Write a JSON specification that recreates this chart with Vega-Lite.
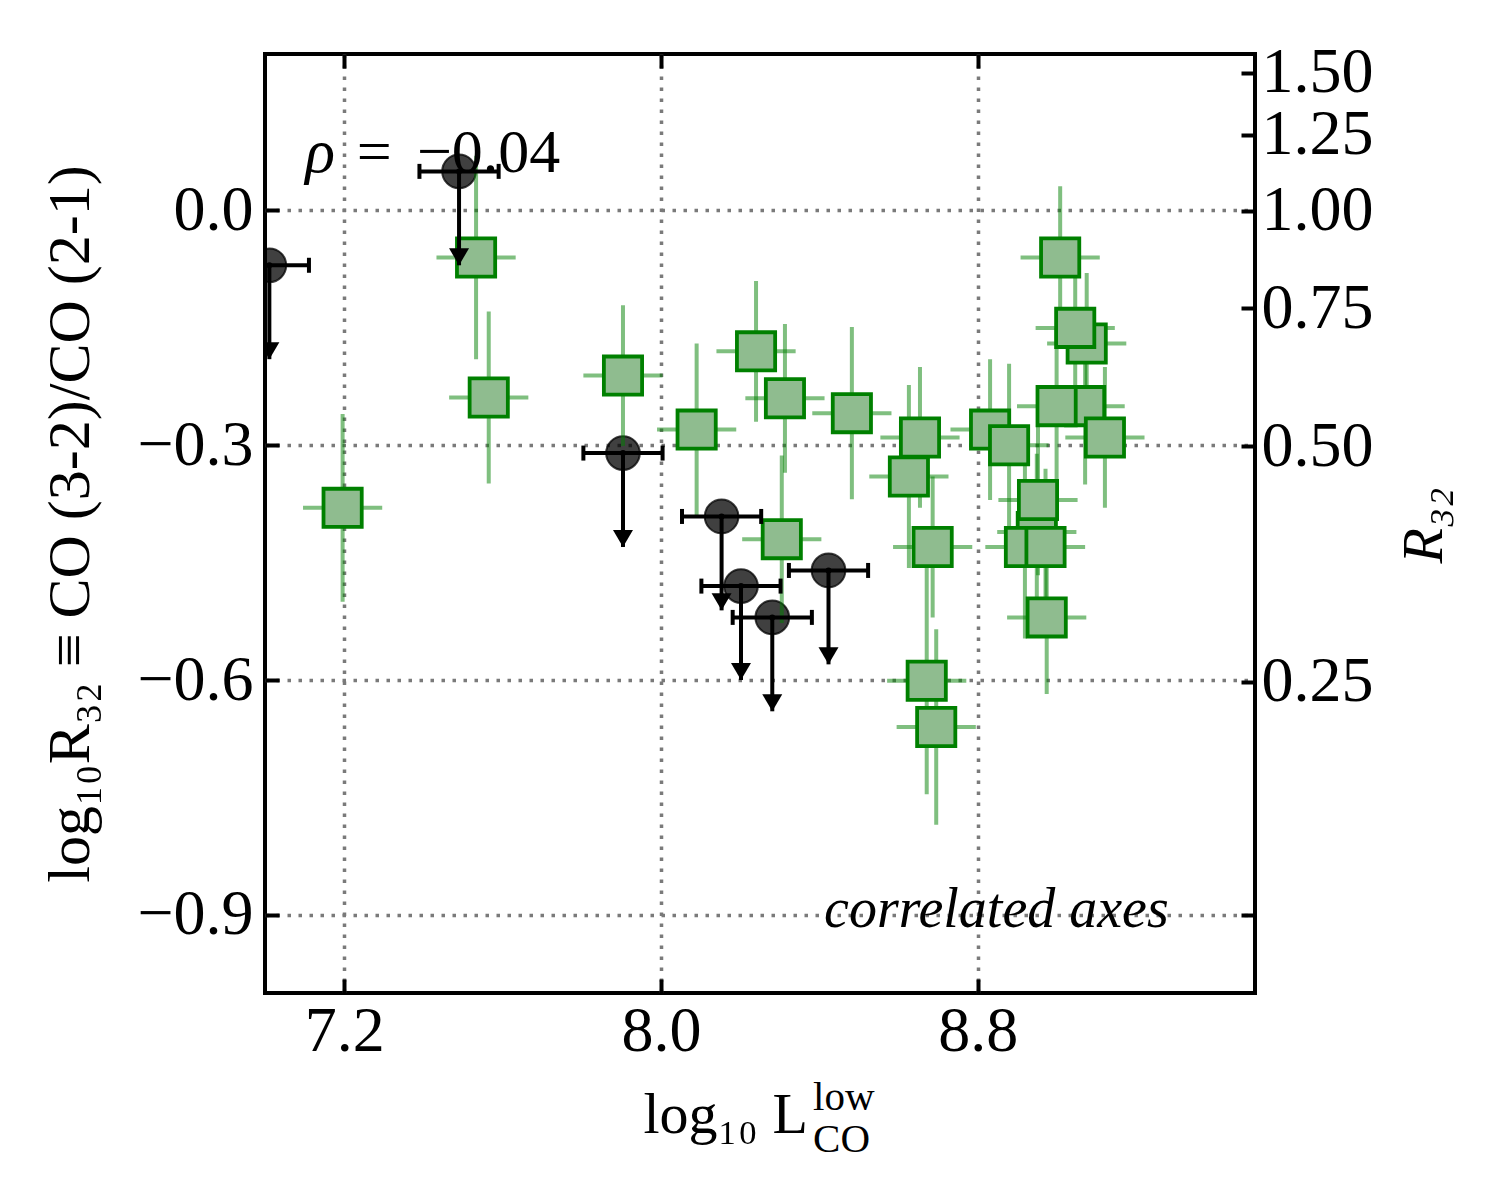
{
  "$schema": "https://vega.github.io/schema/vega-lite/v6.json",
  "autosize": {"type": "none"},
  "padding": {"left": 265, "top": 54, "right": 245, "bottom": 207},
  "width": 990,
  "height": 939,
  "background": "white",
  "datasets": {
    "green": [
      {"x": 7.196, "y": -0.380, "xlo": 7.096, "xhi": 7.296, "ylo": -0.500, "yhi": -0.260},
      {"x": 7.533, "y": -0.060, "xlo": 7.433, "xhi": 7.633, "ylo": -0.190, "yhi": 0.070},
      {"x": 7.565, "y": -0.239, "xlo": 7.465, "xhi": 7.665, "ylo": -0.349, "yhi": -0.129},
      {"x": 7.904, "y": -0.211, "xlo": 7.804, "xhi": 8.004, "ylo": -0.301, "yhi": -0.121},
      {"x": 8.090, "y": -0.280, "xlo": 7.990, "xhi": 8.190, "ylo": -0.390, "yhi": -0.170},
      {"x": 8.240, "y": -0.180, "xlo": 8.140, "xhi": 8.340, "ylo": -0.270, "yhi": -0.090},
      {"x": 8.313, "y": -0.240, "xlo": 8.213, "xhi": 8.413, "ylo": -0.335, "yhi": -0.145},
      {"x": 8.305, "y": -0.420, "xlo": 8.205, "xhi": 8.405, "ylo": -0.527, "yhi": -0.313},
      {"x": 8.482, "y": -0.259, "xlo": 8.382, "xhi": 8.582, "ylo": -0.369, "yhi": -0.149},
      {"x": 8.654, "y": -0.290, "xlo": 8.554, "xhi": 8.754, "ylo": -0.380, "yhi": -0.200},
      {"x": 8.626, "y": -0.340, "xlo": 8.526, "xhi": 8.726, "ylo": -0.457, "yhi": -0.223},
      {"x": 8.686, "y": -0.430, "xlo": 8.586, "xhi": 8.786, "ylo": -0.520, "yhi": -0.340},
      {"x": 8.671, "y": -0.601, "xlo": 8.571, "xhi": 8.771, "ylo": -0.746, "yhi": -0.456},
      {"x": 8.695, "y": -0.660, "xlo": 8.595, "xhi": 8.795, "ylo": -0.785, "yhi": -0.535},
      {"x": 8.831, "y": -0.280, "xlo": 8.731, "xhi": 8.931, "ylo": -0.370, "yhi": -0.190},
      {"x": 8.879, "y": -0.300, "xlo": 8.779, "xhi": 8.979, "ylo": -0.404, "yhi": -0.196},
      {"x": 8.949, "y": -0.411, "xlo": 8.849, "xhi": 9.049, "ylo": -0.511, "yhi": -0.311},
      {"x": 8.952, "y": -0.370, "xlo": 8.852, "xhi": 9.052, "ylo": -0.466, "yhi": -0.274},
      {"x": 8.919, "y": -0.430, "xlo": 8.819, "xhi": 9.019, "ylo": -0.547, "yhi": -0.313},
      {"x": 8.971, "y": -0.430, "xlo": 8.871, "xhi": 9.071, "ylo": -0.530, "yhi": -0.330},
      {"x": 8.974, "y": -0.520, "xlo": 8.874, "xhi": 9.074, "ylo": -0.618, "yhi": -0.422},
      {"x": 9.008, "y": -0.060, "xlo": 8.908, "xhi": 9.108, "ylo": -0.151, "yhi": 0.031},
      {"x": 9.075, "y": -0.170, "xlo": 8.975, "xhi": 9.175, "ylo": -0.260, "yhi": -0.080},
      {"x": 9.046, "y": -0.150, "xlo": 8.946, "xhi": 9.146, "ylo": -0.230, "yhi": -0.070},
      {"x": 9.071, "y": -0.250, "xlo": 8.971, "xhi": 9.171, "ylo": -0.350, "yhi": -0.150},
      {"x": 8.999, "y": -0.250, "xlo": 8.899, "xhi": 9.099, "ylo": -0.350, "yhi": -0.150},
      {"x": 9.121, "y": -0.290, "xlo": 9.021, "xhi": 9.221, "ylo": -0.380, "yhi": -0.200}
    ],
    "black": [
      {"x": 7.011, "y": -0.070, "xlo": 6.911, "xhi": 7.111, "ytip": -0.190},
      {"x": 7.490, "y": 0.050, "xlo": 7.390, "xhi": 7.590, "ytip": -0.070},
      {"x": 7.904, "y": -0.310, "xlo": 7.804, "xhi": 8.004, "ytip": -0.430},
      {"x": 8.153, "y": -0.391, "xlo": 8.053, "xhi": 8.253, "ytip": -0.511},
      {"x": 8.202, "y": -0.480, "xlo": 8.102, "xhi": 8.302, "ytip": -0.600},
      {"x": 8.281, "y": -0.520, "xlo": 8.181, "xhi": 8.381, "ytip": -0.640},
      {"x": 8.423, "y": -0.460, "xlo": 8.323, "xhi": 8.523, "ytip": -0.580}
    ]
  },
  "layer": [
    {
      "data": {"name": "black"},
      "mark": {"type": "point", "shape": "circle", "filled": true, "size": 1134, "fill": "#000000", "fillOpacity": 0.75, "stroke": "#000000", "strokeOpacity": 0.75, "strokeWidth": 2, "clip": true},
      "encoding": {
        "x": {"field": "x", "type": "quantitative", "scale": {"domain": [7, 9.5], "nice": false, "zero": false},
              "axis": {"orient": "bottom", "values": [7.2, 8.0, 8.8], "format": ".1f", "grid": true, "title": "log₁₀ L",
                       "titleX": 378, "titleY": 139, "titleAlign": "left", "titleBaseline": "alphabetic"}},
        "y": {"field": "y", "type": "quantitative", "scale": {"domain": [-1.0, 0.2], "nice": false, "zero": false},
              "axis": {"orient": "left", "values": [-0.9, -0.6, -0.3, 0.0], "format": ".1f", "grid": true, "title": "log₁₀R₃₂ ≡ CO (3-2)/CO (2-1)",
                       "titleFontSize": 60, "titleX": -177, "titleY": 469.5, "titleAngle": 270, "titleAlign": "center", "titleBaseline": "alphabetic"}}
      }
    },
    {
      "data": {"name": "green"},
      "mark": {"type": "rule", "color": "#008000", "opacity": 0.5, "strokeWidth": 4, "clip": true},
      "encoding": {
        "x": {"field": "xlo", "type": "quantitative", "scale": {"domain": [7, 9.5], "nice": false, "zero": false}, "axis": null},
        "x2": {"field": "xhi"},
        "y": {"field": "y", "type": "quantitative", "scale": {"domain": [-1.0, 0.2], "nice": false, "zero": false}, "axis": null}
      }
    },
    {
      "data": {"name": "green"},
      "mark": {"type": "rule", "color": "#008000", "opacity": 0.5, "strokeWidth": 4, "clip": true},
      "encoding": {
        "x": {"field": "x", "type": "quantitative", "scale": {"domain": [7, 9.5], "nice": false, "zero": false}, "axis": null},
        "y": {"field": "ylo", "type": "quantitative", "scale": {"domain": [-1.0, 0.2], "nice": false, "zero": false}, "axis": null},
        "y2": {"field": "yhi"}
      }
    },
    {
      "data": {"name": "green"},
      "mark": {"type": "point", "shape": "square", "filled": true, "size": 1460, "fill": "#8fbc8f", "fillOpacity": 1, "opacity": 1, "stroke": "#008000", "strokeWidth": 3.8, "strokeOpacity": 1, "clip": true},
      "encoding": {
        "x": {"field": "x", "type": "quantitative", "scale": {"domain": [7, 9.5], "nice": false, "zero": false}, "axis": null},
        "y": {"field": "y", "type": "quantitative", "scale": {"domain": [-1.0, 0.2], "nice": false, "zero": false}, "axis": null}
      }
    },
    {
      "data": {"name": "black"},
      "mark": {"type": "rule", "color": "#000000", "strokeWidth": 4, "clip": true},
      "encoding": {
        "x": {"field": "xlo", "type": "quantitative", "scale": {"domain": [7, 9.5], "nice": false, "zero": false}, "axis": null},
        "x2": {"field": "xhi"},
        "y": {"field": "y", "type": "quantitative", "scale": {"domain": [-1.0, 0.2], "nice": false, "zero": false}, "axis": null}
      }
    },
    {
      "data": {"name": "black"},
      "mark": {"type": "tick", "orient": "vertical", "color": "#000000", "size": 15, "thickness": 4, "opacity": 1, "clip": true},
      "encoding": {
        "x": {"field": "xlo", "type": "quantitative", "scale": {"domain": [7, 9.5], "nice": false, "zero": false}, "axis": null},
        "y": {"field": "y", "type": "quantitative", "scale": {"domain": [-1.0, 0.2], "nice": false, "zero": false}, "axis": null}
      }
    },
    {
      "data": {"name": "black"},
      "mark": {"type": "tick", "orient": "vertical", "color": "#000000", "size": 15, "thickness": 4, "opacity": 1, "clip": true},
      "encoding": {
        "x": {"field": "xhi", "type": "quantitative", "scale": {"domain": [7, 9.5], "nice": false, "zero": false}, "axis": null},
        "y": {"field": "y", "type": "quantitative", "scale": {"domain": [-1.0, 0.2], "nice": false, "zero": false}, "axis": null}
      }
    },
    {
      "data": {"name": "black"},
      "mark": {"type": "rule", "color": "#000000", "strokeWidth": 4, "clip": true},
      "encoding": {
        "x": {"field": "x", "type": "quantitative", "scale": {"domain": [7, 9.5], "nice": false, "zero": false}, "axis": null},
        "y": {"field": "y", "type": "quantitative", "scale": {"domain": [-1.0, 0.2], "nice": false, "zero": false}, "axis": null},
        "y2": {"field": "ytip"}
      }
    },
    {
      "data": {"name": "black"},
      "mark": {"type": "point", "shape": "M-1,-1.7L1,-1.7L0,0Z", "filled": true, "size": 400, "fill": "#000000", "fillOpacity": 1, "opacity": 1, "strokeWidth": 0, "clip": true},
      "encoding": {
        "x": {"field": "x", "type": "quantitative", "scale": {"domain": [7, 9.5], "nice": false, "zero": false}, "axis": null},
        "y": {"field": "ytip", "type": "quantitative", "scale": {"domain": [-1.0, 0.2], "nice": false, "zero": false}, "axis": null}
      }
    },
    {
      "data": {"name": "black"},
      "mark": {"type": "point", "shape": "circle", "filled": true, "size": 36, "fill": "#000000", "opacity": 1, "clip": true},
      "encoding": {
        "x": {"field": "x", "type": "quantitative", "scale": {"domain": [7, 9.5], "nice": false, "zero": false}, "axis": null},
        "y": {"field": "y", "type": "quantitative", "scale": {"domain": [-1.0, 0.2], "nice": false, "zero": false}, "axis": null}
      }
    },
    {
      "data": {"values": [{"label": "ρ", "x": 7.1015, "y": 0.049}]},
      "mark": {"type": "text", "font": "Liberation Serif", "fontStyle": "italic", "fontSize": 62, "align": "left", "baseline": "alphabetic", "fill": "#000000"},
      "encoding": {
        "text": {"field": "label"},
        "x": {"field": "x", "type": "quantitative", "scale": {"domain": [7, 9.5], "nice": false, "zero": false}, "axis": null},
        "y": {"field": "y", "type": "quantitative", "scale": {"domain": [-1.0, 0.2], "nice": false, "zero": false}, "axis": null}
      }
    },
    {
      "data": {"values": [{"label": "=", "x": 7.232, "y": 0.049}, {"label": "−0.04", "x": 7.3836, "y": 0.049}, {"label": "low", "x": 8.384, "y": -1.150}, {"label": "CO", "x": 8.384, "y": -1.203}]},
      "mark": {"type": "text", "font": "Liberation Serif", "fontSize": 62, "align": "left", "baseline": "alphabetic", "fill": "#000000"},
      "encoding": {
        "text": {"field": "label"},
        "x": {"field": "x", "type": "quantitative", "scale": {"domain": [7, 9.5], "nice": false, "zero": false}, "axis": null},
        "y": {"field": "y", "type": "quantitative", "scale": {"domain": [-1.0, 0.2], "nice": false, "zero": false}, "axis": null},
        "size": {"condition": {"test": "datum.label === 'low' || datum.label === 'CO'", "value": 41}, "value": 62}
      }
    },
    {
      "data": {"values": [{"label": "correlated axes", "x": 8.847, "y": -0.916}]},
      "mark": {"type": "text", "font": "Liberation Serif", "fontStyle": "italic", "fontSize": 56, "align": "center", "baseline": "alphabetic", "fill": "#000000"},
      "encoding": {
        "text": {"field": "label"},
        "x": {"field": "x", "type": "quantitative", "scale": {"domain": [7, 9.5], "nice": false, "zero": false}, "axis": null},
        "y": {"field": "y", "type": "quantitative", "scale": {"domain": [-1.0, 0.2], "nice": false, "zero": false}, "axis": null}
      }
    },
    {
      "data": {"values": [{"x": 8.0, "r": 1.0}]},
      "mark": {"type": "point", "opacity": 0},
      "encoding": {
        "x": {"field": "x", "type": "quantitative", "scale": {"domain": [7, 9.5], "nice": false, "zero": false},
              "axis": {"orient": "top", "values": [7.2, 8.0, 8.8], "labels": false, "grid": false, "title": null}},
        "y": {"field": "r", "type": "quantitative", "scale": {"type": "log", "domain": [0.1, 1.5848932], "nice": false},
              "axis": {"orient": "right", "values": [0.1258925, 0.25, 0.5, 0.75, 1, 1.25, 1.5], "grid": false,
                       "labelExpr": "datum.value < 0.2 ? '' : format(datum.value, '.2f')",
                       "title": "R₃₂", "titleFontStyle": "italic", "titleX": 186, "titleY": 471, "titleAngle": 270, "titleAlign": "center", "titleBaseline": "alphabetic"}}
      }
    }
  ],
  "resolve": {"scale": {"y": "independent"}, "axis": {"x": "independent", "y": "independent"}},
  "config": {
    "font": "Liberation Serif",
    "view": {"stroke": "#000000", "strokeWidth": 4},
    "axis": {
      "domain": false,
      "labelFont": "Liberation Serif",
      "labelFontSize": 64,
      "labelColor": "#000000",
      "titleFont": "Liberation Serif",
      "titleFontSize": 58,
      "titleFontWeight": "normal",
      "titleColor": "#000000",
      "tickColor": "#000000",
      "tickWidth": 4,
      "tickSize": -14,
      "gridColor": "#7a7a7a",
      "gridWidth": 3.5,
      "gridDash": [3.5, 7.5],
      "gridOpacity": 1,
      "labelOverlap": false,
      "labelFlush": false,
      "labelBound": false
    },
    "axisLeft": {"labelPadding": 26},
    "axisBottom": {"labelPadding": 20},
    "axisRight": {"labelPadding": 20}
  }
}
